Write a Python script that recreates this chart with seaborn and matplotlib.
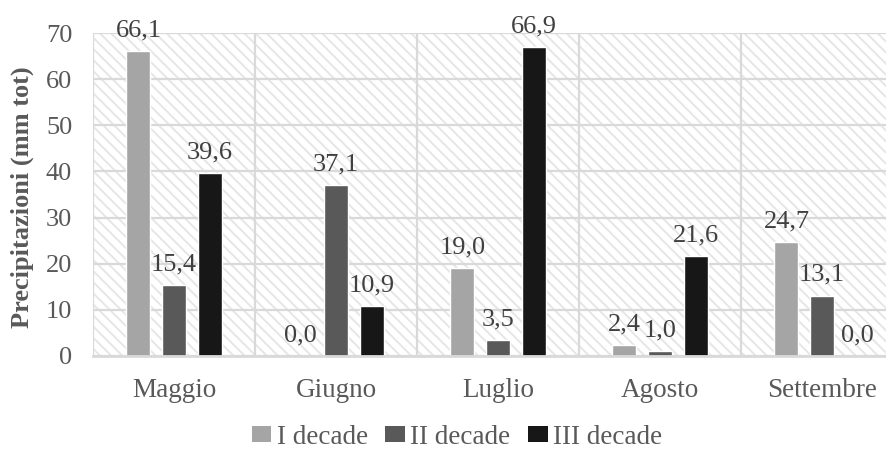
import matplotlib
matplotlib.use("Agg")
import matplotlib.pyplot as plt
import seaborn as sns
import pandas as pd
from matplotlib.patches import Rectangle, Patch

# Monthly rainfall split by ten-day period (decade)
mesi = ["Maggio", "Giugno", "Luglio", "Agosto", "Settembre"]
decadi = ["I decade", "II decade", "III decade"]
i_decade = [66.1, 0.0, 19.0, 2.4, 24.7]
ii_decade = [15.4, 37.1, 3.5, 1.0, 13.1]
iii_decade = [39.6, 10.9, 66.9, 21.6, 0.0]
y_ticks = [0, 10, 20, 30, 40, 50, 60, 70]

df = pd.DataFrame({
    "Mese": mesi * 3,
    "Decade": [decadi[0]] * 5 + [decadi[1]] * 5 + [decadi[2]] * 5,
    "mm": i_decade + ii_decade + iii_decade,
})

sns.set_theme(style="white")
plt.rcParams["font.family"] = ["Liberation Serif", "DejaVu Serif"]
plt.rcParams["hatch.linewidth"] = 1.4

text_gray = "#595959"
label_gray = "#404040"
grid_gray = "#D9D9D9"
palette = {"I decade": "#A5A5A5", "II decade": "#595959", "III decade": "#171717"}

fig = plt.figure(figsize=(8.87, 4.54), dpi=100)
ax = fig.add_axes([93 / 887, 1 - 356 / 454, 810 / 887, 323 / 454])

# hatched plot-area background
ax.add_patch(Rectangle((0, 0), 1, 1, transform=ax.transAxes, facecolor="white",
                       edgecolor="#E6E6E6", hatch="\\" * 3, linewidth=0, zorder=0.1))

sns.barplot(data=df, x="Mese", y="mm", hue="Decade", palette=palette,
            width=0.658, gap=0.324, ax=ax, saturation=1, legend=False,
            errorbar=None, zorder=2)

for cont in ax.containers:
    vals = [b.get_height() for b in cont]
    ax.bar_label(cont, labels=[f"{v:.1f}".replace(".", ",") for v in vals],
                 padding=7, fontsize=19, color=label_gray)

ax.set_xlim(-0.5, 4.5)
ax.set_ylim(0, 70)
ax.set_yticks(y_ticks)
ax.set_yticklabels([str(t) for t in y_ticks], fontsize=19, color=text_gray)
ax.set_xticks(range(len(mesi)))
ax.set_xticklabels(mesi, fontsize=19.5, color=text_gray)
ax.set_xticks([i - 0.5 for i in range(len(mesi) + 1)], minor=True)
ax.tick_params(axis="both", which="both", length=0)
ax.tick_params(axis="x", pad=16)
ax.tick_params(axis="y", pad=15)

ax.set_axisbelow(True)
ax.yaxis.grid(True, color=grid_gray, linewidth=1.6, zorder=0.5)
ax.xaxis.grid(True, which="minor", color=grid_gray, linewidth=1.6, zorder=0.5)
ax.xaxis.grid(False, which="major")

for s in ["top", "right", "left"]:
    ax.spines[s].set_visible(False)
ax.spines["bottom"].set_color(grid_gray)
ax.spines["bottom"].set_linewidth(2)
ax.spines["bottom"].set_zorder(3)

ax.set_xlabel("")
ax.set_ylabel("")
fig.text(22 / 887, 1 - 197 / 454, "Precipitazioni (mm tot)", rotation=90,
         ha="center", va="center", fontsize=19, fontweight="bold", color=text_gray)

handles = [Patch(facecolor=palette[d], edgecolor="none") for d in decadi]
fig.legend(handles, decadi, loc="center", bbox_to_anchor=(457 / 887, 1 - 437 / 454),
           ncol=3, frameon=False, fontsize=19.5, handlelength=0.72, handleheight=0.5,
           handletextpad=0.2, columnspacing=0.65, labelcolor=text_gray)

fig.savefig("out.png", dpi=100)
